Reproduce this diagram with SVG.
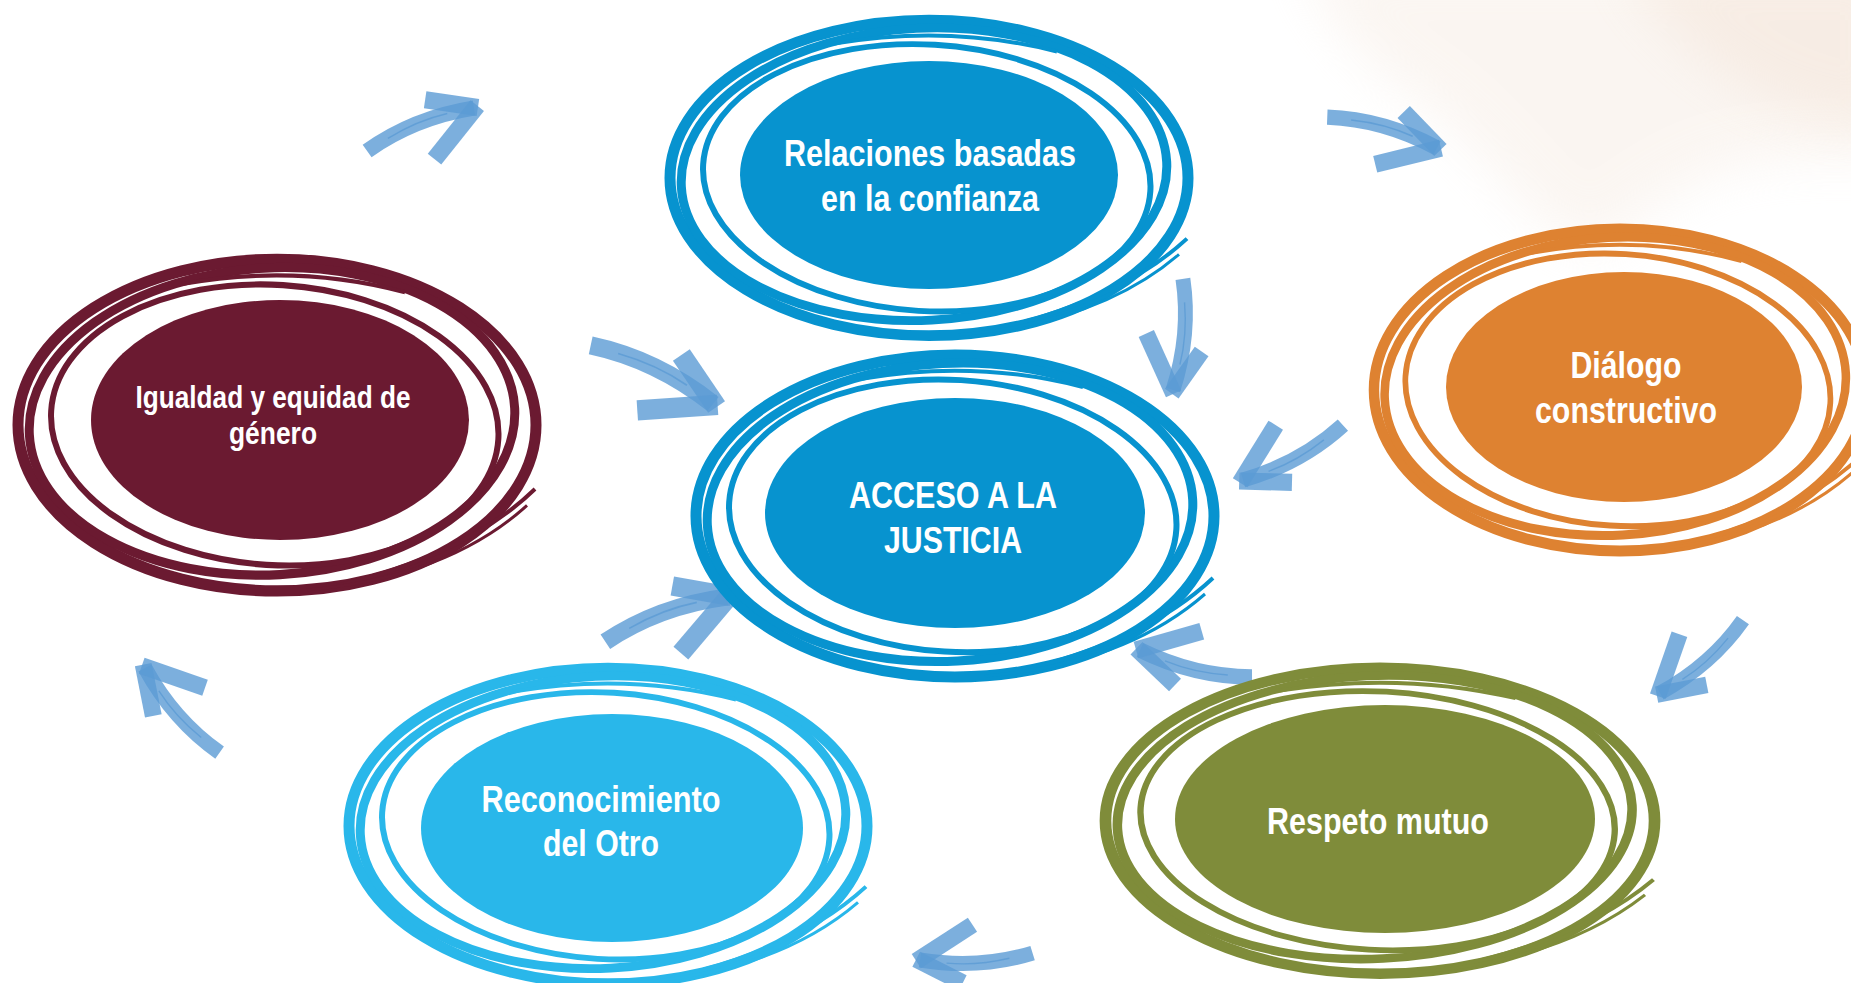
<svg xmlns="http://www.w3.org/2000/svg" xmlns:xlink="http://www.w3.org/1999/xlink" width="1851" height="983" viewBox="0 0 1851 983">
<style>
  .lbl { font-family: "Liberation Sans Narrow", "Liberation Sans", Arial, sans-serif; font-weight: bold; fill: #ffffff; text-anchor: middle; }
  .big { font-size: 37px; }
  .small { font-size: 32px; }
  .ring { fill: none; stroke: currentColor; }
  .arr path { fill: none; stroke: #5b9bd5; stroke-opacity: 0.8; }
</style>
<defs>
  <filter id="wash" x="-50%" y="-50%" width="200%" height="200%">
    <feGaussianBlur stdDeviation="25"/>
  </filter>
  <g id="ringT" class="ring">
    <ellipse cx="0" cy="4" rx="259" ry="161" stroke-width="11"/>
    <ellipse cx="-5" cy="0" rx="243" ry="149" transform="rotate(-3)" stroke-width="9"/>
    <ellipse cx="-2" cy="4" rx="224" ry="136" transform="rotate(3.5)" stroke-width="6"/>
    <path d="M -95 -133 Q 20 -153 128 -125" stroke-width="4"/>
    <path d="M 60 160 Q 190 130 258 66" stroke-width="4"/>
    <path d="M 30 164 Q 170 152 250 82" stroke-width="3"/>
  </g>
  <g id="arrT" class="arr">
    <path d="M -120 0 Q -62 -14 0 0" stroke-width="16"/>
    <path d="M 4 1 L -44 -27" stroke-width="18"/>
    <path d="M 4 -1 L -58 34" stroke-width="18"/>
    <path d="M -95 -4 Q -60 -10 -28 -5" stroke="#ffffff" stroke-opacity="0.6" stroke-width="1.5"/>
  </g>
</defs>
<rect width="1851" height="983" fill="#ffffff"/>
<g id="background">
  <path d="M 1300 -40 L 1900 -40 L 1900 160 Q 1760 150 1700 180 Q 1640 210 1600 250 Q 1560 240 1520 200 Q 1470 140 1420 100 Q 1340 50 1300 -40 Z" fill="#f6ebe2" opacity="0.45" filter="url(#wash)"/>
  <path d="M 1620 -40 L 1900 -40 L 1900 130 Q 1780 120 1720 70 Q 1660 30 1620 -40 Z" fill="#f1ddcd" opacity="0.35" filter="url(#wash)"/>
</g>
<g id="connectors">
  <use xlink:href="#arrT" transform="translate(474,108) rotate(-21.9) scale(0.96)"/>
  <use xlink:href="#arrT" transform="translate(1437,148) rotate(15.7) scale(0.95)"/>
  <use xlink:href="#arrT" transform="translate(713,404) rotate(25.6) scale(1.13)"/>
  <use xlink:href="#arrT" transform="translate(1173,390) rotate(95.1) scale(0.93)"/>
  <use xlink:href="#arrT" transform="translate(1243,480) rotate(151.2) scale(0.95)"/>
  <use xlink:href="#arrT" transform="translate(1660,693) rotate(138.7) scale(0.92)"/>
  <use xlink:href="#arrT" transform="translate(1140,650) rotate(193.5) scale(0.96)"/>
  <use xlink:href="#arrT" transform="translate(727,597) rotate(-20.2) scale(1.08)"/>
  <use xlink:href="#arrT" transform="translate(920,960) rotate(176.5) scale(0.94)"/>
  <use xlink:href="#arrT" transform="translate(145,668) rotate(228.6) scale(0.94)"/>
</g>
<g id="node-relaciones">
  <use xlink:href="#ringT" color="#0793cf" transform="translate(929,174) scale(1,0.98)"/>
  <ellipse cx="929" cy="175" rx="189" ry="114" fill="#0793cf"/>
  <text class="lbl big" x="930" y="166" textLength="292" lengthAdjust="spacingAndGlyphs">Relaciones basadas</text>
  <text class="lbl big" x="930" y="211" textLength="218" lengthAdjust="spacingAndGlyphs">en la confianza</text>
</g>
<g id="node-acceso">
  <use xlink:href="#ringT" color="#0793cf" transform="translate(955,512)"/>
  <ellipse cx="955" cy="513" rx="190" ry="115" fill="#0793cf"/>
  <text class="lbl big" x="953" y="508" textLength="208" lengthAdjust="spacingAndGlyphs">ACCESO A LA</text>
  <text class="lbl big" x="953" y="553" textLength="138" lengthAdjust="spacingAndGlyphs">JUSTICIA</text>
</g>
<g id="node-dialogo">
  <use xlink:href="#ringT" color="#de8231" transform="translate(1620,386) scale(0.95,1)"/>
  <ellipse cx="1624" cy="387" rx="178" ry="115" fill="#de8231"/>
  <text class="lbl big" x="1626" y="378" textLength="111" lengthAdjust="spacingAndGlyphs">Diálogo</text>
  <text class="lbl big" x="1626" y="423" textLength="182" lengthAdjust="spacingAndGlyphs">constructivo</text>
</g>
<g id="node-respeto">
  <use xlink:href="#ringT" color="#7f8c3a" transform="translate(1380,817) scale(1.06,0.95)"/>
  <ellipse cx="1385" cy="819" rx="210" ry="114" fill="#7f8c3a"/>
  <text class="lbl big" x="1378" y="834" textLength="222" lengthAdjust="spacingAndGlyphs">Respeto mutuo</text>
</g>
<g id="node-reconocimiento">
  <use xlink:href="#ringT" color="#29b7ea" transform="translate(608,822) scale(1,0.98)"/>
  <ellipse cx="612" cy="828" rx="191" ry="114" fill="#29b7ea"/>
  <text class="lbl big" x="601" y="812" textLength="239" lengthAdjust="spacingAndGlyphs">Reconocimiento</text>
  <text class="lbl big" x="601" y="856" textLength="116" lengthAdjust="spacingAndGlyphs">del Otro</text>
</g>
<g id="node-igualdad">
  <use xlink:href="#ringT" color="#6b1a31" transform="translate(277,421) scale(1,1.03)"/>
  <ellipse cx="280" cy="420" rx="189" ry="120" fill="#6b1a31"/>
  <text class="lbl small" x="273" y="408" textLength="275" lengthAdjust="spacingAndGlyphs">Igualdad y equidad de</text>
  <text class="lbl small" x="273" y="444" textLength="88" lengthAdjust="spacingAndGlyphs">género</text>
</g>
</svg>
